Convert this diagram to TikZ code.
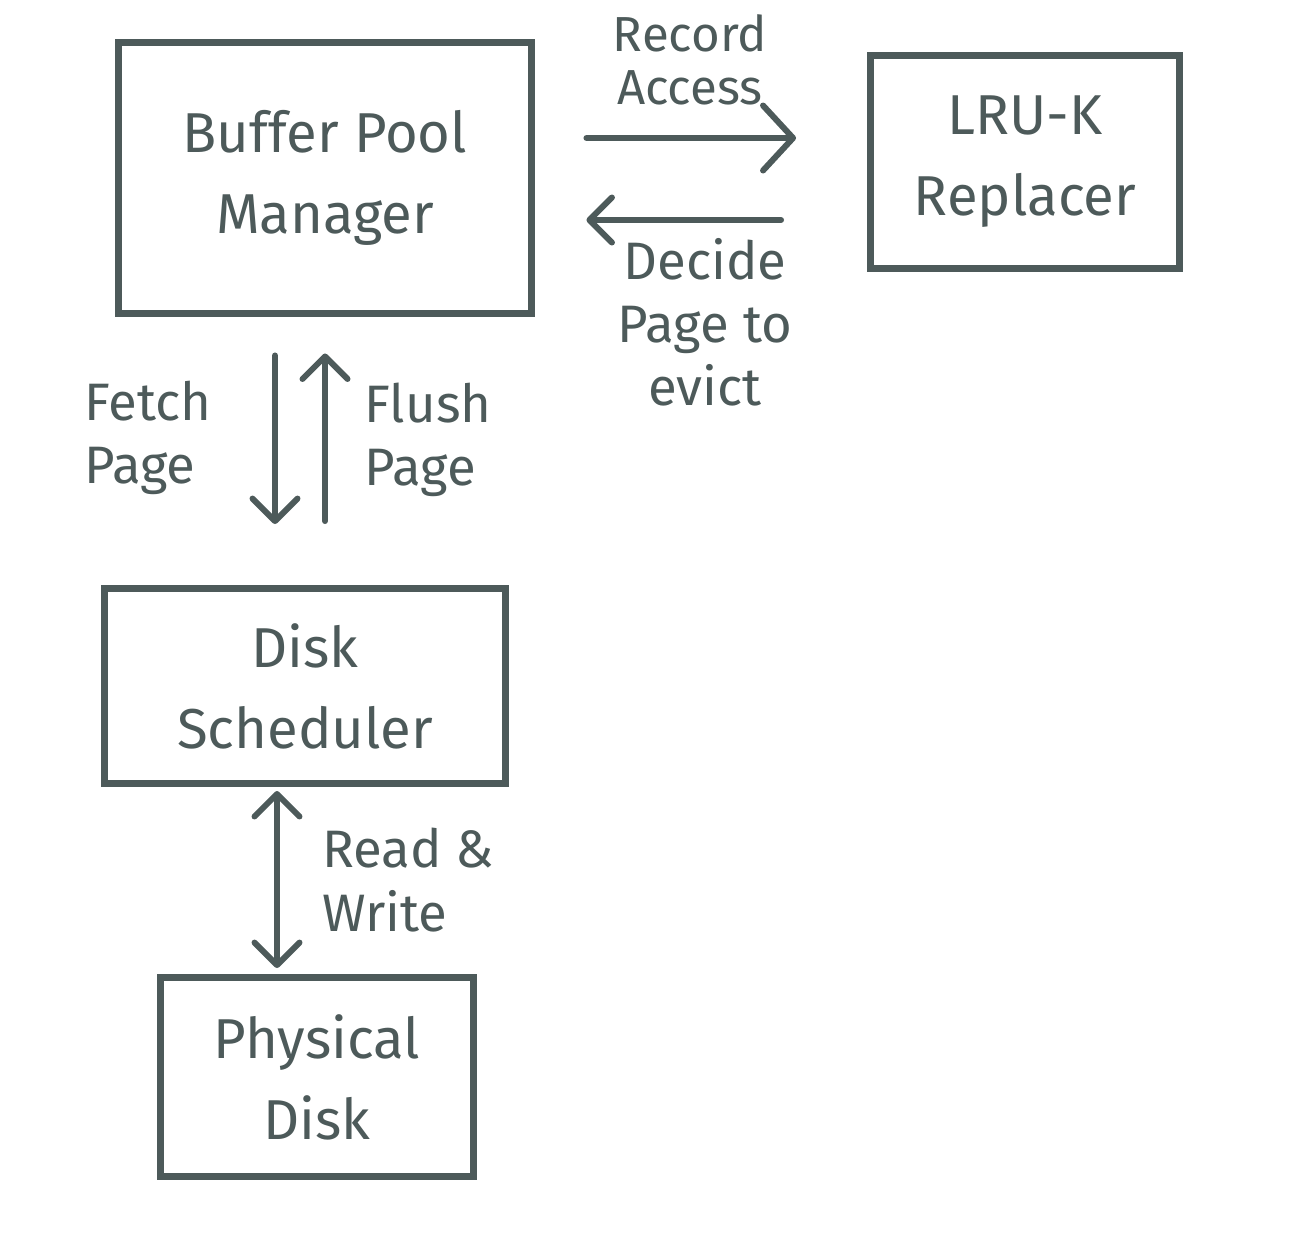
\documentclass[tikz,border=0pt]{standalone}
\usepackage{fontspec}
\setmainfont{Fira Sans}
\usetikzlibrary{arrows.meta}
\definecolor{ink}{HTML}{4D5A5A}
\begin{document}
\begin{tikzpicture}[x=0.02cm,y=-0.02cm,
    every node/.style={font=\fontsize{32}{46}\selectfont,text=ink,align=center},
    box/.style={draw=ink,line width=0.14cm,inner sep=0pt},
    lbl/.style={font=\fontsize{30}{36}\selectfont},
    arr/.style={draw=ink,line width=0.12cm,line cap=round,
      -{Straight Barb[length=0.45cm,width=0.9cm,round]}},
    dbl/.style={arr,{Straight Barb[length=0.45cm,width=0.9cm,round]}-{Straight Barb[length=0.45cm,width=0.9cm,round]}}]
    \useasboundingbox (0,0) rectangle (1297,1259);
    % boxes
    \node[box,minimum width=8.28cm,minimum height=5.44cm] (bpm) at (325,178) {Buffer Pool\\Manager};
    \node[box,minimum width=6.18cm,minimum height=4.28cm] (lru) at (1025,162) {LRU-K\\Replacer};
    \node[box,minimum width=8.04cm,minimum height=3.9cm] (ds) at (305,686) {Disk\\Scheduler};
    \node[box,minimum width=6.28cm,minimum height=3.98cm] (pd) at (317,1077) {Physical\\Disk};
    % connectors
    \draw[arr,-{Straight Barb[length=0.6cm,width=1.3cm,round]}] ([shift={(51,-40)}]bpm.east) -- ([shift={(-71,-24)}]lru.west);
    \draw[arr] ([shift={(-86,58)}]lru.west) -- ([shift={(51,42)}]bpm.east);
    \draw[arr] ([shift={(-50,38)}]bpm.south) -- ([shift={(-30,-61)}]ds.north);
    \draw[arr] ([shift={(20,-64)}]ds.north) -- ([shift={(0,36)}]bpm.south);
    \draw[dbl] ([shift={(-28,4)}]ds.south) -- ([shift={(-40,-6)}]pd.north);
    % labels
    \node[lbl,font=\fontsize{28}{30}\selectfont] (rec) at (690,60) {Record\\Access};
    \node[lbl] (dec) at (705,322) {Decide\\Page to\\evict};
    \node[lbl,align=left] (fetch) at (148,438) {Fetch\\Page};
    \node[lbl,align=left] (flush) at (428,440) {Flush\\Page};
    \node[lbl,align=left] (rw) at (408,880) {Read \&\\Write};
\end{tikzpicture}
\end{document}
